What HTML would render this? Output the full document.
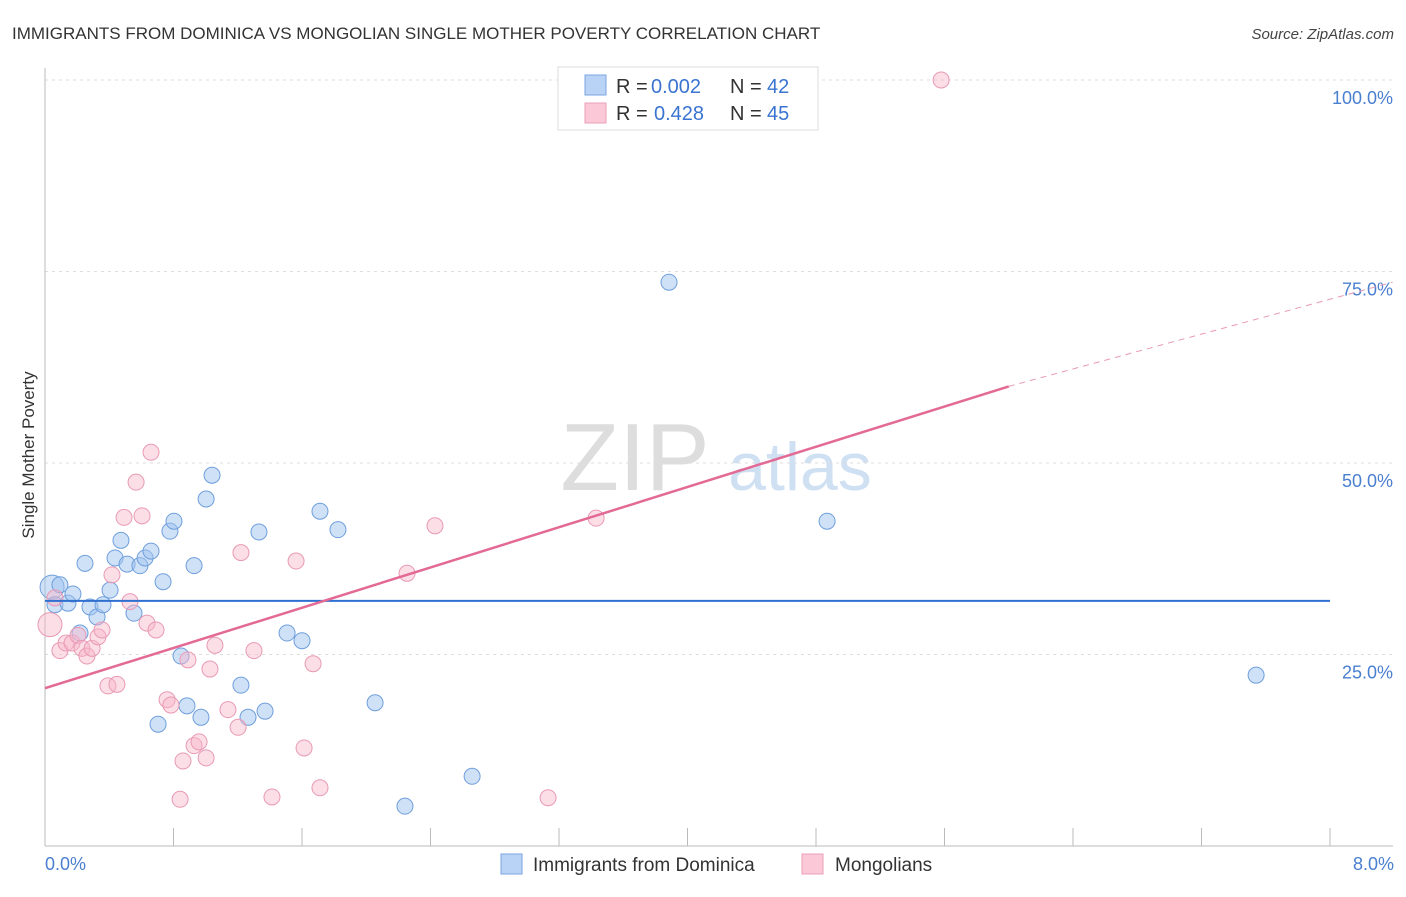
<!DOCTYPE html>
<html><head><meta charset="utf-8"><style>
body{margin:0;background:#fff;font-family:"Liberation Sans",sans-serif;}
svg text{font-family:"Liberation Sans",sans-serif;}
</style></head><body>
<svg id="chart" width="1406" height="892" xmlns="http://www.w3.org/2000/svg">
<text x="12" y="39" font-size="17" fill="#333">IMMIGRANTS FROM DOMINICA VS MONGOLIAN SINGLE MOTHER POVERTY CORRELATION CHART</text>
<text x="1394" y="39" font-size="15" fill="#444" font-style="italic" text-anchor="end">Source: ZipAtlas.com</text>
<text x="635" y="490" font-size="96" fill="#ddd" font-family="Liberation Serif" text-anchor="middle">ZIP</text>
<text x="800" y="490" font-size="68" fill="#cfe0f3" text-anchor="middle">atlas</text>
<g id="grid"></g><g id="axes"></g><g id="pts"></g><g id="trend"></g>
<text x="34" y="455" font-size="17" fill="#333" text-anchor="middle" transform="rotate(-90 34 455)">Single Mother Poverty</text>
<text x="45" y="870" font-size="18" fill="#4a7fd0">0.0%</text>
<text x="1394" y="870" font-size="18" fill="#4a7fd0" text-anchor="end">8.0%</text>
<g>
<rect x="558" y="67" width="260" height="63" fill="#fff" stroke="#ddd"/>
<rect x="585" y="75" width="21" height="20" fill="#b8d3f5" stroke="#7aa6e0"/>
<rect x="585" y="103" width="21" height="20" fill="#fac8d6" stroke="#eba2b9"/>
<text x="616" y="93" font-size="20" fill="#333">R =</text>
<text x="651" y="93" font-size="20" fill="#3a74d0">0.002</text>
<text x="730" y="93" font-size="20" fill="#333">N =</text>
<text x="767" y="93" font-size="20" fill="#3a74d0">42</text>
<text x="616" y="120" font-size="20" fill="#333">R =</text>
<text x="654" y="120" font-size="20" fill="#3a74d0">0.428</text>
<text x="730" y="120" font-size="20" fill="#333">N =</text>
<text x="767" y="120" font-size="20" fill="#3a74d0">45</text>
</g>
<g><rect x="501" y="854" width="21" height="20" fill="#b8d3f5" stroke="#7aa6e0"/><text x="533" y="871" font-size="19" fill="#333">Immigrants from Dominica</text></g>
<g><rect x="802" y="854" width="21" height="20" fill="#fac8d6" stroke="#eba2b9"/><text x="835" y="871" font-size="19" fill="#333">Mongolians</text></g>
</svg>
<script>
const blueX=[0.044,0.093,0.062,0.143,0.174,0.249,0.280,0.324,0.361,0.405,0.436,0.473,0.511,0.554,0.591,0.623,0.660,0.735,0.778,0.803,0.847,0.884,0.928,0.971,1.003,1.040,0.704,1.220,1.264,1.332,1.370,1.507,1.600,1.712,1.824,2.055,2.241,2.659,3.885,4.869,7.540,0.218];
const blueY=[33.8,34.1,31.5,31.7,32.9,36.9,31.2,29.9,31.5,33.4,37.6,39.9,36.8,30.4,36.6,37.6,38.5,34.5,41.1,42.4,24.8,18.3,36.6,16.8,45.3,48.4,15.9,21.0,16.8,41.0,17.6,27.8,26.8,43.7,41.3,18.7,5.2,9.1,73.6,42.4,22.3,27.8];
const pinkX=[0.031,0.062,0.093,0.131,0.168,0.205,0.230,0.261,0.293,0.330,0.355,0.392,0.448,0.417,0.492,0.529,0.567,0.604,0.635,0.660,0.691,0.760,0.784,0.841,0.859,0.890,0.928,0.959,1.003,1.027,1.058,1.139,1.202,1.220,1.301,1.413,1.563,1.613,1.669,1.712,2.254,2.428,3.132,3.431,5.579];
const pinkY=[28.9,32.4,25.5,26.5,26.5,27.5,25.8,24.8,25.8,27.3,28.2,20.9,21.1,35.4,42.9,31.9,47.5,43.1,29.1,51.4,28.2,19.1,18.4,6.1,11.1,24.3,13.1,13.6,11.5,23.1,26.2,17.8,15.5,38.3,25.5,6.4,37.2,12.8,23.8,7.6,35.6,41.8,6.3,42.8,100.0];
const yTicks=[25,50,75,100];
const xTicks=[0,0.8,1.6,2.4,3.2,4.0,4.8,5.6,6.4,7.2,8.0];
const blueTrend=[32.0,32.0];
const pinkTrend=[20.6,60.0,73.6];
const NS="http://www.w3.org/2000/svg";
const X=v=>45+v/8*1285, Y=v=>846-v/100*766;
function mk(tag,parent,attrs){const e=document.createElementNS(NS,tag);for(const k in attrs)e.setAttribute(k,attrs[k]);document.getElementById(parent).appendChild(e);return e;}
yTicks.forEach(t=>{
 const l=mk('line','grid',{x1:45,x2:1393,y1:Y(t),y2:Y(t),stroke:'#ddd','stroke-dasharray':'3,4'});
 
 
 const tx=mk('text','grid',{x:1393,y:Y(t)+24,'font-size':18,fill:'#4a7fd0','text-anchor':'end'});tx.textContent=t.toFixed(1)+'%';
 
 
});
const topGrid=mk('line','grid',{x1:45,x2:1393,y1:Y(100),y2:Y(100),stroke:'#ddd','stroke-dasharray':'3,4'});


const ya=mk('line','axes',{x1:45,x2:45,y1:68,y2:846,stroke:'#bbb'});


const xa=mk('line','axes',{x1:45,x2:1393,y1:846,y2:846,stroke:'#bbb'});


xTicks.forEach(t=>{const l=mk('line','axes',{x1:X(t),x2:X(t),y1:828,y2:846,stroke:'#bbb'});
 
 });
function pts(xs,ys,fill,stroke,name){xs.forEach((x,i)=>{const c=mk('circle','pts',{cx:X(x),cy:Y(ys[i]),r:i===0?12:8,fill:fill,stroke:stroke,'stroke-width':1});
 
 });}
pts(blueX,blueY,'rgba(160,196,240,0.5)','#6f9fdc','dominica-point');
pts(pinkX,pinkY,'rgba(248,182,202,0.45)','#e89ab4','mongolian-point');
const bl=mk('line','trend',{x1:X(0),x2:X(8),y1:Y(blueTrend[0]),y2:Y(blueTrend[1]),stroke:'#2f6fd0','stroke-width':2});


const pl=mk('line','trend',{x1:X(0),x2:X(6),y1:Y(pinkTrend[0]),y2:Y(pinkTrend[1]),stroke:'#e26a95','stroke-width':2.5});


const pd=mk('line','trend',{x1:X(6),x2:X(8.39),y1:Y(pinkTrend[1]),y2:Y(pinkTrend[2]),stroke:'#e89ab4','stroke-width':1,'stroke-dasharray':'6,5'});


</script>
</body></html>
